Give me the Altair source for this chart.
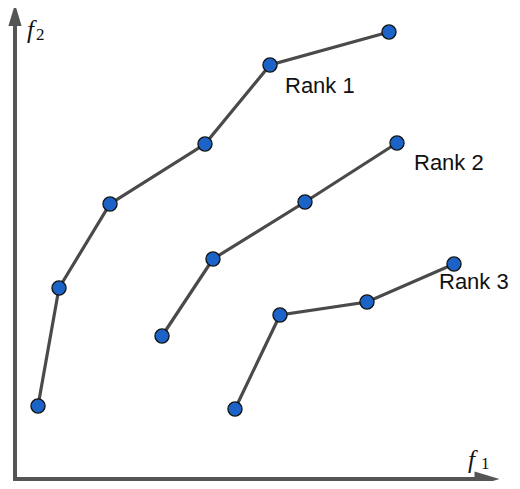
import altair as alt
import pandas as pd

# Pareto fronts (f1, f2)
rank1_f1 = [23, 44, 95, 190, 255, 374]
rank1_f2 = [76, 194, 278, 338, 417, 450]
rank2_f1 = [147, 198, 290, 382]
rank2_f2 = [146, 223, 280, 339]
rank3_f1 = [220, 265, 352, 439]
rank3_f2 = [73, 167, 180, 218]

rank_names = ["Rank 1", "Rank 2", "Rank 3"]
label_f1 = [270, 399, 424]
label_f2 = [389, 312, 193]

axis_f2 = 3
axis_len_f1 = 460
axis_len_f2 = 457
tip_f1 = 472
tip_f2 = 467

rows = []
for name, xs_, ys_ in [("Rank 1", rank1_f1, rank1_f2), ("Rank 2", rank2_f1, rank2_f2), ("Rank 3", rank3_f1, rank3_f2)]:
    for i, (a, b) in enumerate(zip(xs_, ys_)):
        rows.append({"rank": name, "order": i, "f1": a, "f2": b})
pts = pd.DataFrame(rows)
labels = pd.DataFrame({"rank": rank_names, "f1": label_f1, "f2": label_f2})

xs = alt.Scale(domain=[-7, 497], range=[0, 504], nice=False, zero=False)
ys = alt.Scale(domain=[1, 474], range=[473, 0], nice=False, zero=False)

def X(field="f1"):
    return alt.X(f"{field}:Q", scale=xs, axis=None)

def Y(field="f2"):
    return alt.Y(f"{field}:Q", scale=ys, axis=None)

axis_col = "#555555"

axes_df = pd.DataFrame({"x1": [0, 0], "y1": [axis_f2, -3], "x2": [axis_len_f1, 0], "y2": [axis_f2, axis_len_f2]})
axes_rule = alt.Chart(axes_df).mark_rule(color=axis_col, strokeWidth=4).encode(
    x=X("x1"), y=Y("y1"), x2="x2:Q", y2="y2:Q"
)

up_df = pd.DataFrame({"f1": [0], "f2": [tip_f2]})
right_df = pd.DataFrame({"f1": [tip_f1], "f2": [axis_f2]})
arrow_up = alt.Chart(up_df).mark_point(
    shape="M0,-1L0.6,1L-0.6,1Z", size=484, filled=True, fill=axis_col, opacity=1, strokeWidth=0
).encode(x=X(), y=Y())
arrow_right = alt.Chart(right_df).mark_point(
    shape="M1,0L-1,-0.6L-1,0.6Z", size=625, filled=True, fill=axis_col, opacity=1, strokeWidth=0
).encode(x=X(), y=Y())

lines = alt.Chart(pts).mark_line(color="#4a4a4a", strokeWidth=3.2).encode(
    x=X(), y=Y(), detail="rank:N", order="order:Q"
)
circles = alt.Chart(pts).mark_circle(
    size=200, color="#1b63c6", opacity=1, stroke="#111111", strokeWidth=1.3
).encode(x=X(), y=Y())

texts = alt.Chart(labels).mark_text(
    align="left", baseline="alphabetic", font="Liberation Sans", fontSize=22, color="#111111"
).encode(x=X(), y=Y(), text="rank:N")

f_df = pd.DataFrame({"f1": [12, 453], "f2": [444, 14], "t": ["f", "f"]})
sub_df = pd.DataFrame({"f1": [21, 466], "f2": [442, 13], "t": ["2", "1"]})
f_text = alt.Chart(f_df).mark_text(
    align="left", baseline="alphabetic", font="Liberation Serif", fontStyle="italic", fontSize=25, color="#111111"
).encode(x=X(), y=Y(), text="t:N")
sub_text = alt.Chart(sub_df).mark_text(
    align="left", baseline="alphabetic", font="Liberation Serif", fontSize=17, color="#111111"
).encode(x=X(), y=Y(), text="t:N")

chart = alt.layer(axes_rule, arrow_up, arrow_right, lines, circles, texts, f_text, sub_text).properties(
    width=504, height=473, autosize=alt.AutoSizeParams(type="none"), padding=0
).configure_view(stroke=None)

chart.save("out.html", embed_options={"renderer": "svg", "actions": False})
